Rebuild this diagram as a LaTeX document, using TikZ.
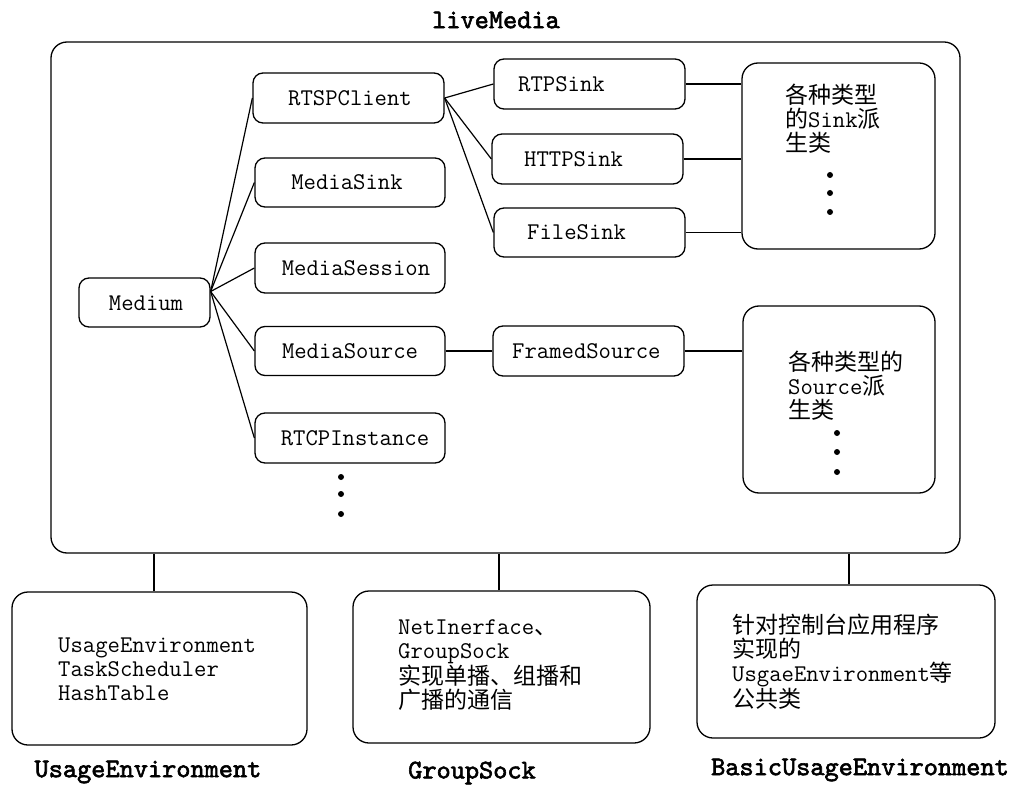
\documentclass[tikz,border=0pt]{standalone}
\usepackage{fontspec}
\newfontfamily\cjk{Noto Sans CJK SC}
\newfontfamily\headmono{lmmono10-regular.otf}[FakeBold=2.2]
\newcommand\zh[1]{{\cjk\fontsize{23}{24}\selectfont #1}}

\begin{document}
\begin{tikzpicture}[x=1pt,y=-1pt,
  box/.style={draw, line width=1.3pt, rounded corners=10pt, inner sep=0pt},
  bigbox/.style={box, rounded corners=16pt},
  lbl/.style={font=\ttfamily\fontsize{24}{24}\selectfont, inner sep=0pt},
  multi/.style={lbl, align=left, anchor=west},
  heading/.style={font=\headmono\fontsize{27}{28}\selectfont, inner sep=0pt},
  link/.style={line width=1.2pt},
  dot/.style={circle, fill, inner sep=0pt, minimum size=6pt}
]
\useasboundingbox (0,0) rectangle (1017,786);

% liveMedia container
\node[heading] (t-live) at (496,20) {liveMedia};
\node[bigbox, minimum width=909pt, minimum height=511pt] (outer) at (505.5,297.5) {};

% class boxes
\node[box, minimum width=131pt, minimum height=49pt] (medium) at (144.5,302.5) {};
\node[lbl] (medium-t) at (146,303) {Medium};

\node[box, minimum width=191pt, minimum height=50pt] (rtsp) at (348.5,98) {};
\node[lbl] (rtsp-t) at (350,98) {RTSPClient};
\node[box, minimum width=190pt, minimum height=49pt] (msink) at (350,182.5) {};
\node[lbl] (msink-t) at (347,182.5) {MediaSink};
\node[box, minimum width=190pt, minimum height=50pt] (msess) at (350,268) {};
\node[lbl] (msess-t) at (356,268) {MediaSession};
\node[box, minimum width=190pt, minimum height=49pt] (msrc) at (350,351) {};
\node[lbl] (msrc-t) at (350,351) {MediaSource};
\node[box, minimum width=190pt, minimum height=50pt] (rtcp) at (350,438) {};
\node[lbl] (rtcp-t) at (355,438) {RTCPInstance};
\node[dot] (rd1) at (341,477) {};
\node[dot] (rd2) at (341,494) {};
\node[dot] (rd3) at (341,514) {};

\node[box, minimum width=191pt, minimum height=50pt] (rtp) at (589.5,84) {};
\node[lbl, anchor=west] (rtp-t) at (518,84) {RTPSink};
\node[box, minimum width=191pt, minimum height=50pt] (http) at (587.5,159) {};
\node[lbl, anchor=west] (http-t) at (524,159) {HTTPSink};
\node[box, minimum width=191pt, minimum height=49pt] (file) at (589.5,232.5) {};
\node[lbl, anchor=west] (file-t) at (527,232.5) {FileSink};
\node[box, minimum width=191pt, minimum height=50pt] (framed) at (588.5,351) {};
\node[lbl, anchor=west] (framed-t) at (512,351) {FramedSource};

% derived-class boxes
\node[bigbox, minimum width=193pt, minimum height=186pt] (sinks) at (838.5,156) {};
\node[multi] (sinks-t) at (785,119) {\zh{各种类型}\\\zh{的}Sink\zh{派}\\\zh{生类}};
\node[dot] (sd1) at (830,175) {};
\node[dot] (sd2) at (830,193) {};
\node[dot] (sd3) at (830,212) {};

\node[bigbox, minimum width=192pt, minimum height=187pt] (sources) at (839,399.5) {};
\node[multi] (sources-t) at (788,386) {\zh{各种类型的}\\Source\zh{派}\\\zh{生类}};
\node[dot] (od1) at (837,433) {};
\node[dot] (od2) at (837,452) {};
\node[dot] (od3) at (837,472) {};

% supporting libraries
\node[bigbox, minimum width=295pt, minimum height=153pt] (ue) at (159.5,668.5) {};
\node[multi] (ue-t) at (58,669) {UsageEnvironment\\TaskScheduler\\HashTable};
\node[heading] (ue-l) at (148,772) {UsageEnvironment};

\node[bigbox, minimum width=297pt, minimum height=152pt] (gs) at (501.5,667) {};
\node[multi] (gs-t) at (398,665) {NetInerface\zh{、}\\GroupSock\\\zh{实现单播、组播和}\\\zh{广播的通信}};
\node[heading] (gs-l) at (472,773) {GroupSock};

\node[bigbox, minimum width=298pt, minimum height=153pt] (bue) at (846,661.5) {};
\node[multi] (bue-t) at (732,662) {\zh{针对控制台应用程序}\\\zh{实现的}\\UsgaeEnvironment\zh{等}\\\zh{公共类}};
\node[heading] (bue-l) at (860,770) {BasicUsageEnvironment};

% connectors
\coordinate (mj) at ([yshift=11pt]medium.east);
\foreach \n in {rtsp, msink, msess, msrc, rtcp}
  \draw[link] (mj) -- (\n.west);
\foreach \n in {rtp, http, file}
  \draw[link] (rtsp.east) -- (\n.west);
\foreach \n in {rtp, http, file}
  \draw[link] (\n.east) -- (\n.east -| sinks.west);
\draw[link] (msrc.east) -- (framed.west);
\draw[link] (framed.east) -- (framed.east -| sources.west);

\coordinate (ue-top) at ([xshift=-5.5pt]ue.north);
\coordinate (gs-top) at ([xshift=-2.5pt]gs.north);
\coordinate (bue-top) at ([xshift=3pt]bue.north);
\foreach \n in {ue-top, gs-top, bue-top}
  \draw[link] (\n) -- (\n |- outer.south);
\end{tikzpicture}
\end{document}
